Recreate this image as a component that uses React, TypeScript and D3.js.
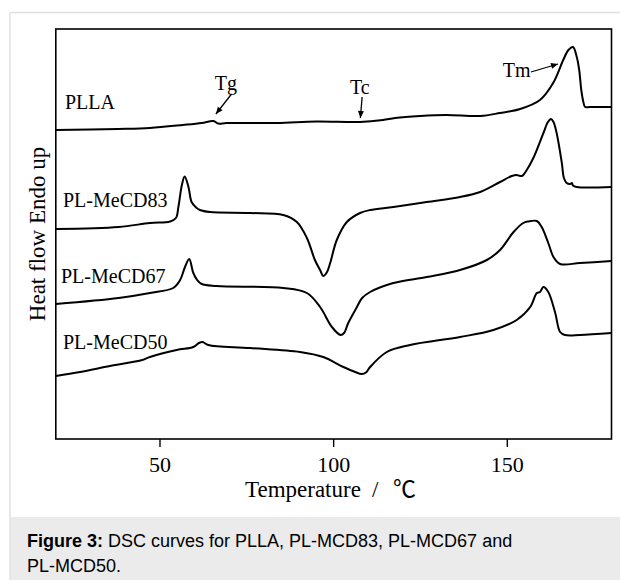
import React from "react";
import * as d3 from "d3";

// Temperature (°C), heat flow (arbitrary units, endo up, curves offset)
const tempDomain: [number, number] = [20, 180];
const heatDomain: [number, number] = [0, 41];
const tempTicks = [50, 100, 150];

const pllaCurve: [number, number][] = [
  [20, 30.9], [38, 31.0], [47.1, 31.1], [56.6, 31.4], [62, 31.6], [65.4, 31.8], [66.7, 31.55],
  [69.2, 31.6], [83.6, 31.6], [95.1, 31.75], [107.6, 31.7], [114.2, 31.9], [117.7, 32.1],
  [124.9, 32.3], [132.5, 32.4], [142.2, 32.3], [147.9, 32.6], [153.7, 33.0], [159.4, 33.9],
  [163.2, 35.6], [166.1, 37.9], [167.6, 38.9], [168.9, 39.2], [170.0, 38.2], [170.7, 36.9],
  [171.3, 34.9], [171.9, 33.7], [172.4, 33.2], [173.8, 33.2], [180, 33.2],
];

const mecd83Curve: [number, number][] = [
  [20, 21.0], [38.1, 21.2], [47.1, 21.6], [52.9, 21.75], [54.6, 22.1], [55.3, 23.2], [56.3, 25.4],
  [57.1, 26.25], [58.2, 25.2], [59.1, 23.7], [60.4, 23.15], [61.5, 22.9], [64.4, 22.7], [75.9, 22.6],
  [85.5, 22.4], [89.4, 21.7], [92.3, 20.1], [94.6, 17.9], [96.1, 16.9], [97.0, 16.3], [98.1, 16.7],
  [99.0, 17.6], [100.9, 19.9], [103.8, 21.7], [107.6, 22.6], [110.5, 22.9], [117.2, 23.2],
  [126.8, 23.7], [136.4, 24.2], [142.2, 24.7], [147.9, 25.7], [151.3, 26.3], [152.7, 26.4],
  [154.2, 26.3], [155.6, 26.9], [157.5, 28.1], [160.4, 30.6], [161.7, 31.7], [162.6, 32.0],
  [163.3, 31.7], [164.2, 30.6], [165.7, 27.6], [166.3, 26.1], [167.1, 25.6], [168.1, 25.5],
  [168.6, 25.6], [168.9, 25.35], [170.0, 25.2], [180, 25.2],
];

const mecd67Curve: [number, number][] = [
  [20, 13.5], [38.1, 14.1], [47.1, 14.6], [53.8, 15.1], [55.8, 15.9], [57.2, 17.2], [58.4, 18.0],
  [59.6, 16.6], [60.7, 15.9], [62.0, 15.5], [66.3, 15.3], [85.5, 15.1], [92.3, 14.6], [96.1, 13.2],
  [99.5, 11.2], [102.0, 10.4], [103.0, 10.6], [104.2, 11.6], [106.7, 13.2], [108.2, 14.1],
  [110.5, 14.7], [117.2, 15.6], [126.8, 16.2], [136.4, 16.9], [144.1, 17.9], [147.9, 18.9],
  [151.8, 20.7], [154.6, 21.6], [156.0, 21.75], [158.5, 21.8], [159.9, 21.2], [161.8, 19.6],
  [163.3, 18.2], [165.2, 17.5], [170.9, 17.6], [180, 17.8],
];

const mecd50Curve: [number, number][] = [
  [20, 6.3], [27.0, 6.7], [35.6, 7.3], [44.9, 7.9], [47.1, 8.2], [54.8, 8.9], [59.6, 9.2],
  [61.2, 9.6], [62.3, 9.7], [63.9, 9.4], [75.9, 9.1], [90.3, 8.7], [97.0, 8.2], [102.8, 7.2],
  [106.2, 6.7], [108.1, 6.5], [109.3, 6.65], [110.5, 7.2], [115.3, 8.7], [122.0, 9.4],
  [136.4, 10.2], [146.0, 10.9], [152.7, 11.9], [156.6, 13.2], [158.5, 14.6], [159.4, 14.7],
  [160.4, 15.2], [161.8, 14.7], [163.8, 12.6], [165.2, 10.7], [166.6, 10.4], [170.9, 10.4],
  [180, 10.6],
];

const seriesNames = ["PLLA", "PL-MeCD83", "PL-MeCD67", "PL-MeCD50"];
const seriesCurves = [pllaCurve, mecd83Curve, mecd67Curve, mecd50Curve];

// annotations: label, label position (T, H), arrow tail (T, H), arrow tip (T, H)
const annoLabels = ["Tg", "Tc", "Tm"];
const annoLabelPos: [number, number][] = [[65.8, 34.9], [104.7, 34.5], [148.7, 36.2]];
const annoTail: [number, number][] = [[70.6, 34.5], [108.2, 34.2], [156.8, 36.7]];
const annoTip: [number, number][] = [[66.1, 32.5], [107.7, 32.1], [164.6, 37.5]];

const W = 620;
const H = 580;
const plot = { left: 55.8, right: 611.5, top: 29, bottom: 439 };
const labelX = [65, 63, 61, 63];
const labelY = [109, 207, 283, 348.5];

const serif = "'Liberation Serif', 'Times New Roman', serif";
const sans = "'Liberation Sans', Arial, Helvetica, sans-serif";

export default function App() {
  const x = d3.scaleLinear().domain(tempDomain).range([plot.left, plot.right]);
  const y = d3.scaleLinear().domain(heatDomain).range([plot.bottom, plot.top]);
  const line = d3
    .line<[number, number]>()
    .x((d) => x(d[0]))
    .y((d) => y(d[1]))
    .curve(d3.curveCatmullRom.alpha(0.5));

  const arrowHead = (tail: [number, number], tip: [number, number]) => {
    const x1 = x(tail[0]), y1 = y(tail[1]), x2 = x(tip[0]), y2 = y(tip[1]);
    const ang = Math.atan2(y2 - y1, x2 - x1);
    const L = 7, Wd = 3;
    const bx = x2 - L * Math.cos(ang), by = y2 - L * Math.sin(ang);
    const px = -Math.sin(ang) * Wd, py = Math.cos(ang) * Wd;
    return `M${x2},${y2}L${bx + px},${by + py}L${bx - px},${by - py}Z`;
  };

  return (
    <svg
      width={W}
      height={H}
      style={{ position: "absolute", left: 0, top: 0, background: "#fff" }}
    >
      {/* figure container */}
      <rect x={10} y={517} width={620} height={70} fill="#ebebeb" />
      <line x1={10} y1={12.5} x2={620} y2={12.5} stroke="#e0e0e0" strokeWidth={1.5} />
      <line x1={10} y1={12.5} x2={10} y2={580} stroke="#e0e0e0" strokeWidth={1.5} />

      {/* frame */}
      <rect
        x={plot.left}
        y={plot.top}
        width={plot.right - plot.left}
        height={plot.bottom - plot.top}
        fill="none"
        stroke="#000"
        strokeWidth={1.6}
      />
      {tempTicks.map((t) => (
        <g key={t}>
          <line x1={x(t)} x2={x(t)} y1={plot.bottom} y2={plot.bottom + 8} stroke="#000" strokeWidth={1.4} />
          <text x={x(t)} y={471.5} textAnchor="middle" fontFamily={serif} fontSize={22} fill="#000">
            {t}
          </text>
        </g>
      ))}

      <text y={496.5} fontFamily={serif} fontSize={23} fill="#000">
        <tspan x={245}>Temperature</tspan>
        <tspan x={372}>/</tspan>
        <tspan x={393} fontFamily="'Noto Sans CJK SC', 'Noto Sans CJK JP', serif" fontSize={23}>℃</tspan>
      </text>
      <text
        transform={`translate(45,234) rotate(-90)`}
        textAnchor="middle"
        fontFamily={serif}
        fontSize={23}
        fill="#000"
      >
        Heat flow Endo up
      </text>

      {/* curves */}
      {seriesCurves.map((c, i) => (
        <path
          key={seriesNames[i]}
          d={line(c) || ""}
          fill="none"
          stroke="#000"
          strokeWidth={2}
          strokeLinejoin="round"
        />
      ))}
      {seriesNames.map((n, i) => (
        <text key={n} x={labelX[i]} y={labelY[i]} fontFamily={serif} fontSize={20} fill="#000">
          {n}
        </text>
      ))}

      {/* annotations */}
      {annoLabels.map((a, i) => (
        <g key={a}>
          <text
            x={x(annoLabelPos[i][0])}
            y={y(annoLabelPos[i][1])}
            fontFamily={serif}
            fontSize={20}
            fill="#000"
          >
            {a}
          </text>
          <line
            x1={x(annoTail[i][0])}
            y1={y(annoTail[i][1])}
            x2={x(annoTip[i][0])}
            y2={y(annoTip[i][1])}
            stroke="#000"
            strokeWidth={1.3}
          />
          <path d={arrowHead(annoTail[i], annoTip[i])} fill="#000" />
        </g>
      ))}

      {/* caption */}
      <text x={27} y={547} fontFamily={sans} fontSize={18} fill="#000">
        <tspan fontWeight="bold">Figure 3:</tspan>
        <tspan> DSC curves for PLLA, PL-MCD83, PL-MCD67 and</tspan>
      </text>
      <text x={27} y={572} fontFamily={sans} fontSize={18} fill="#000">
        PL-MCD50.
      </text>
    </svg>
  );
}
